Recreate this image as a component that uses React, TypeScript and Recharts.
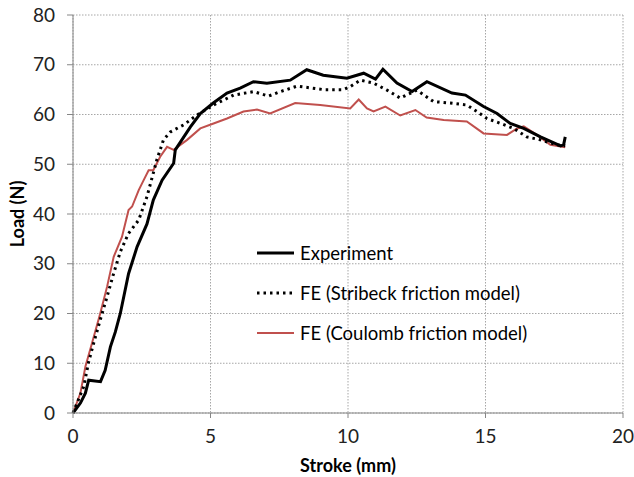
import React from "react";
import {
  LineChart,
  Line,
  XAxis,
  YAxis,
  CartesianGrid,
  Label,
} from "recharts";

// Experiment (black solid)
const expStroke = [0, 0.27, 0.45, 0.57, 1.0, 1.17, 1.36, 1.54, 1.72, 2.02, 2.33, 2.69, 2.92, 3.24, 3.66, 3.72, 4.27, 4.63, 5.1, 5.6, 6.08, 6.56, 7.05, 7.9, 8.5, 9.1, 9.96, 10.57, 11.0, 11.27, 11.78, 12.33, 12.87, 13.78, 14.27, 14.93, 15.42, 15.9, 16.39, 17.0, 17.73, 17.84, 17.9];
const expLoad = [0, 2, 4, 6.6, 6.3, 8.6, 13.3, 16.3, 20, 28, 33.4, 38, 42.8, 46.8, 50.2, 52.9, 57.5, 60.2, 62.3, 64.3, 65.3, 66.6, 66.3, 66.9, 69, 67.9, 67.3, 68.3, 67.1, 69.1, 66.3, 64.6, 66.6, 64.3, 63.9, 61.6, 60.2, 58.2, 57.2, 55.5, 53.7, 53.9, 55.5];

// FE, Stribeck friction (black dotted)
const strStroke = [0, 0.39, 0.57, 0.75, 0.99, 1.24, 1.48, 1.72, 2.02, 2.39, 2.69, 3.05, 3.29, 3.54, 4.02, 4.51, 5.11, 5.84, 6.57, 7.11, 7.54, 8.15, 9.11, 9.84, 10.08, 10.45, 10.93, 11.42, 11.9, 12.5, 13.11, 13.72, 14.32, 14.69, 15.05, 15.55, 16.02, 16.5, 17.0, 17.6, 17.9];
const strLoad = [0, 5.3, 10.3, 14, 18.7, 23.4, 28.1, 32.4, 36.1, 38.8, 43.5, 50.9, 54.9, 56.5, 57.9, 59.9, 61.9, 63.9, 64.6, 63.7, 64.6, 65.7, 65, 65, 65.6, 66.9, 66.3, 64.9, 63.3, 64.9, 62.6, 62.3, 61.9, 60.6, 59.2, 58.2, 57.2, 55.5, 54.9, 53.9, 53.7];

// FE, Coulomb friction (red)
const coulStroke = [0, 0.27, 0.45, 0.69, 0.99, 1.24, 1.48, 1.78, 2.02, 2.15, 2.39, 2.57, 2.75, 2.92, 3.17, 3.42, 3.66, 4.15, 4.63, 5.11, 5.6, 6.2, 6.69, 7.17, 8.08, 8.99, 10.08, 10.39, 10.69, 10.93, 11.36, 11.9, 12.45, 12.86, 13.48, 14.32, 14.93, 15.78, 16.15, 16.39, 16.87, 17.36, 17.9];
const coulLoad = [0, 4, 9.3, 14, 20, 25.4, 31.4, 35.4, 40.8, 41.5, 44.8, 46.8, 48.8, 48.8, 51.5, 53.5, 52.9, 54.9, 57.2, 58.2, 59.2, 60.6, 61, 60.2, 62.3, 61.9, 61.2, 63, 61.2, 60.6, 61.6, 59.8, 60.9, 59.4, 58.9, 58.6, 56.2, 55.9, 57.2, 57.6, 55.9, 53.9, 53.4];

const xTicks = [0, 5, 10, 15, 20];
const yTicks = [0, 10, 20, 30, 40, 50, 60, 70, 80];

const toPoints = (xs: number[], ys: number[]) =>
  xs.map((x, i) => ({ x, y: ys[i] }));

const expData = toPoints(expStroke, expLoad);
const strData = toPoints(strStroke, strLoad);
const coulData = toPoints(coulStroke, coulLoad);

const FONT = "Lato, 'Open Sans', sans-serif";
const RED = "#C0504D";

const legendItems = [
  { name: "Experiment", color: "#000", width: 3, dash: undefined as string | undefined },
  { name: "FE (Stribeck friction model)", color: "#000", width: 3, dash: "2.5 4" },
  { name: "FE (Coulomb friction model)", color: RED, width: 2, dash: undefined },
];

// legend drawn as an overlay so it doesn't shrink the plot area
function LegendBox() {
  return (
    <div
      style={{
        position: "absolute",
        left: 256,
        top: 233,
        fontFamily: FONT,
        fontSize: 18.5,
        color: "#000",
      }}
    >
      {legendItems.map((it) => (
        <div
          key={it.name}
          style={{ display: "flex", alignItems: "center", height: 40 }}
        >
          <svg width={42} height={10} style={{ marginRight: 2 }}>
            <line
              x1={1}
              y1={5}
              x2={38}
              y2={5}
              stroke={it.color}
              strokeWidth={it.width}
              strokeDasharray={it.dash}
            />
          </svg>
          <span>{it.name}</span>
        </div>
      ))}
    </div>
  );
}

export default function App() {
  return (
    <div style={{ position: "absolute", left: 0, top: 0, background: "#fff" }}>
      <LineChart
        width={634}
        height={477}
        margin={{ top: 15, right: 11, left: 0, bottom: 0 }}
      >
        <CartesianGrid
          stroke="#A6A6A6"
          strokeDasharray="1.5 1.5"
          horizontalValues={yTicks}
          verticalValues={xTicks}
        />
        <XAxis
          dataKey="x"
          type="number"
          domain={[0, 20]}
          ticks={xTicks}
          allowDuplicatedCategory={false}
          height={64}
          stroke="#868686"
          tickSize={5}
          tickMargin={12}
          tick={{ fill: "#222", fontSize: 19, fontFamily: FONT }}
        >
          <Label
            value="Stroke (mm)"
            position="insideBottom"
            offset={5}
            style={{ fontFamily: FONT, fontSize: 18, fontWeight: 700, fill: "#000" }}
          />
        </XAxis>
        <YAxis
          type="number"
          domain={[0, 80]}
          ticks={yTicks}
          width={73}
          stroke="#868686"
          tickSize={6}
          tickMargin={12}
          tick={{ fill: "#222", fontSize: 19, fontFamily: FONT }}
        >
          <Label
            value="Load (N)"
            angle={-90}
            position="insideLeft"
            offset={18}
            style={{
              fontFamily: FONT,
              fontSize: 18,
              fontWeight: 700,
              fill: "#000",
              textAnchor: "middle",
            }}
          />
        </YAxis>
        <Line
          data={coulData}
          dataKey="y"
          name="FE (Coulomb friction model)"
          stroke={RED}
          strokeWidth={2}
          dot={false}
          type="linear"
          isAnimationActive={false}
        />
        <Line
          data={strData}
          dataKey="y"
          name="FE (Stribeck friction model)"
          stroke="#000"
          strokeWidth={3}
          strokeDasharray="2.5 4"
          dot={false}
          type="linear"
          isAnimationActive={false}
        />
        <Line
          data={expData}
          dataKey="y"
          name="Experiment"
          stroke="#000"
          strokeWidth={3}
          dot={false}
          type="linear"
          isAnimationActive={false}
        />
      </LineChart>
      <LegendBox />
    </div>
  );
}
